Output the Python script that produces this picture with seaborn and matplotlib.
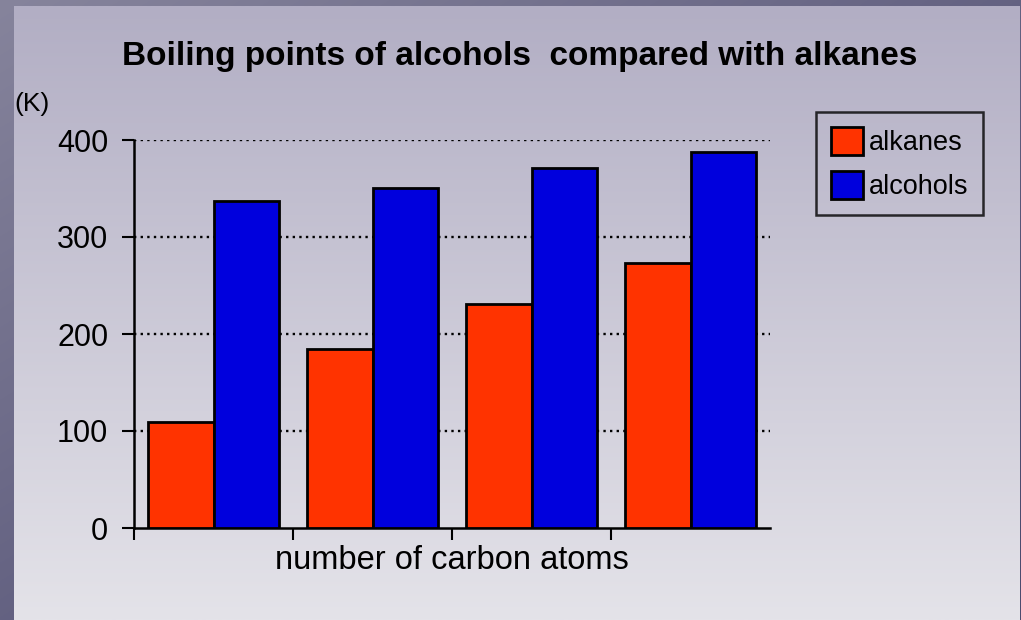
import numpy as np
import pandas as pd
import matplotlib
matplotlib.use("Agg")
import matplotlib.pyplot as plt
import seaborn as sns

carbons = ["1", "2", "3", "4"]
alkanes = [109, 185, 231, 273]
alcohols = [337, 351, 371, 388]
series_names = ["alkanes", "alcohols"]
yticks = [0, 100, 200, 300, 400]

df = pd.DataFrame({
    "carbons": carbons * 2,
    "bp": alkanes + alcohols,
    "series": [series_names[0]] * 4 + [series_names[1]] * 4,
})

sns.set_theme(style="white")
plt.rcParams["font.family"] = ["Liberation Sans", "DejaVu Sans"]
plt.rcParams["text.color"] = "black"
plt.rcParams["axes.labelcolor"] = "black"
plt.rcParams["xtick.color"] = "black"
plt.rcParams["ytick.color"] = "black"

W, H = 1021, 620
fig = plt.figure(figsize=(W / 100, H / 100), dpi=100)

# background: outer dark frame + inner vertical gradient panel
bg = fig.add_axes([0, 0, 1, 1], zorder=-10)
bg.axis("off")
yy, xx = np.mgrid[0:H, 0:W]
t = np.clip(0.6 * yy / H + 0.6 * xx / W, 0, 1)[..., None]
light = np.array([0x86, 0x84, 0x9c]) / 255
dark = np.array([0x4d, 0x4b, 0x70]) / 255
outer = light * (1 - t) + dark * t
bg.imshow(outer, extent=[0, W, H, 0], aspect="auto", interpolation="bilinear")
g = np.linspace(0, 1, 256)[:, None, None]
top = np.array([0xb2, 0xae, 0xc4]) / 255
bot = np.array([0xe4, 0xe3, 0xe9]) / 255
panel = top * (1 - g) + bot * g
bg.imshow(panel, extent=[14, 1019, H, 6], aspect="auto", interpolation="bilinear")
bg.set_xlim(0, W); bg.set_ylim(H, 0)

ax = fig.add_axes([134 / W, 92 / H, (770 - 134) / W, (528 - 140) / H])
ax.set_facecolor("none")

sns.barplot(data=df, x="carbons", y="bp", hue="series", hue_order=series_names,
            palette=["#ff3300", "#0000dd"], width=0.824, gap=0,
            edgecolor="black", linewidth=2.0, saturation=1, ax=ax, zorder=3,
            legend=True)

ax.set_xlim(-0.5, 3.5)
ax.set_ylim(0, 400)
ax.set_yticks(yticks)
ax.set_yticklabels([str(v) for v in yticks], fontsize=22)
ax.set_xticks([-0.5, 0.5, 1.5, 2.5])
ax.set_xticklabels([])
ax.tick_params(axis="both", direction="out", length=8.5, width=1.5, color="black",
               left=True, bottom=True)
ax.tick_params(axis="y", pad=10)
for v in yticks[1:]:
    ax.axhline(v, color="black", linestyle=(0, (1, 1.8)), linewidth=1.7, zorder=1)

for s in ["top", "right"]:
    ax.spines[s].set_visible(False)
for s in ["left", "bottom"]:
    ax.spines[s].set_color("black")
    ax.spines[s].set_linewidth(1.8)
ax.set_xlabel("number of carbon atoms", fontsize=23.5, labelpad=0)
ax.set_ylabel("")

fig.text(520 / W, 1 - 56 / H, "Boiling points of alcohols  compared with alkanes",
         ha="center", va="center", fontsize=24, fontweight="bold")
fig.text(14 / W, 1 - 104 / H, "(K)", ha="left", va="center", fontsize=19)

handles, labels = ax.get_legend_handles_labels()
ax.legend_.remove()
leg = fig.legend(handles, labels, loc="upper left",
                 bbox_to_anchor=(816 / W, 1 - 112 / H), bbox_transform=fig.transFigure,
                 frameon=True, fancybox=False, fontsize=19.5, handlelength=1.2,
                 handleheight=1.2, handletextpad=0.2, labelspacing=0.55,
                 borderpad=0.55, borderaxespad=0)
leg.get_frame().set_edgecolor("black")
leg.get_frame().set_facecolor("none")
leg.get_frame().set_linewidth(1.8)

fig.savefig("out.png", dpi=100)
